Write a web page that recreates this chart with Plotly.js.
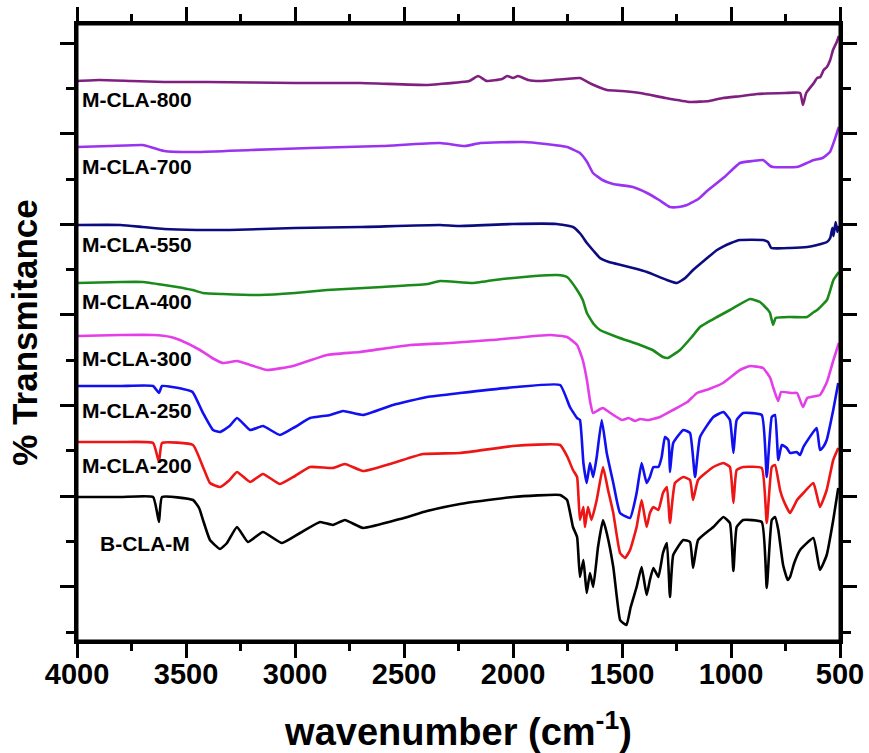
<!DOCTYPE html>
<html>
<head>
<meta charset="utf-8">
<script src="https://cdn.plot.ly/plotly-3.0.1.min.js"></script>
<style>html,body{margin:0;padding:0;background:#fff;}#chart{width:869px;height:753px;}</style>
</head>
<body>
<div id="chart"></div>
<script>
// Series labels
const labels = ["M-CLA-800","M-CLA-700","M-CLA-550","M-CLA-400","M-CLA-300","M-CLA-250","M-CLA-200","B-CLA-M"];

// M-CLA-800
const wn800 = [4000,3900,3750,3600,3400,3000,2700,2400,2335,2200,2160,2120,2050,2027,2000,1977,1930,1876,1760,1693,1640,1569,1500,1417,1300,1188,1100,1037,950,881,750,683,670,655,620,605,590,575,560,545,532,515,505];
const t800  = [560,561,560,559,559,558,558,556,557,560,565,560,562,565,563,565,561,560,562,563,557,551,550,548,543,539,540,543,545,547,548,548,536,548,558,563,564,571,574,581,591,599,605];

// M-CLA-700
const wn700 = [4000,3850,3700,3679,3600,3450,3200,2931,2600,2335,2220,2150,1954,1850,1752,1693,1660,1633,1590,1541,1450,1385,1330,1280,1240,1202,1150,1110,1030,959,900,853,820,807,700,683,620,580,546,525,510,505];
const t700  = [494,495,496,495,490,489,491,493,495,498,495,498,499,497,494,488,479,468,461,457,454,448,441,434,434,436,442,450,464,478,480,481,475,474,474,475,481,483,489,501,511,514];

// M-CLA-550
const wn550 = [4000,3800,3700,3600,3450,3300,3000,2700,2335,2250,2000,1800,1725,1690,1661,1630,1601,1560,1523,1450,1385,1294,1248,1210,1174,1120,1064,1000,959,853,830,815,729,650,605,560,545,535,530,520,512,505];
const t550  = [416,416,414,412,411,411,413,414,416,415,417,417,414,407,398,390,383,379,377,373,369,361,358,363,371,381,391,398,401,401,399,393,393,394,396,399,403,413,405,419,409,415];

// M-CLA-400
const wn400 = [4000,3800,3697,3600,3541,3470,3422,3330,3161,3000,2853,2600,2394,2335,2183,2050,1900,1798,1752,1706,1680,1661,1630,1601,1523,1417,1360,1312,1290,1234,1180,1142,1064,1005,913,867,830,821,807,795,729,651,620,605,560,530,505];
const t400  = [358,359,359,356,354,351,348,347,346,348,351,354,357,360,358,362,365,366,364,351,341,328,317,311,304,296,291,284,283,291,304,314,324,331,342,339,331,328,316,323,324,324,329,331,341,361,369];

// M-CLA-300
const wn300 = [4000,3800,3651,3570,3528,3436,3380,3330,3266,3206,3128,3009,2853,2702,2472,2289,2100,1830,1752,1706,1680,1661,1645,1633,1600,1587,1560,1500,1470,1440,1417,1380,1326,1266,1200,1156,1100,1037,959,913,853,820,807,784,770,720,697,670,650,592,560,530,505];
const t300  = [305,306,306,304,301,291,283,278,280,276,271,275,286,289,296,298,301,306,304,296,281,261,238,228,232,233,229,221,223,220,222,221,224,231,239,248,252,258,271,275,273,263,254,240,249,248,248,234,243,246,259,281,298];

// M-CLA-250
const wn250 = [4000,3800,3651,3624,3610,3514,3470,3422,3376,3344,3300,3266,3206,3147,3069,3000,2931,2839,2780,2688,2550,2394,2243,1982,1784,1739,1706,1693,1677,1662,1647,1632,1616,1593,1570,1540,1509,1463,1433,1410,1387,1372,1356,1333,1318,1303,1287,1280,1265,1219,1188,1165,1142,1081,1035,1005,989,974,944,859,836,813,798,783,767,744,729,699,683,668,607,592,577,561,531,508];
const t250  = [255,255,255,248,255,252,249,228,211,209,215,223,211,215,206,214,223,226,230,226,236,244,248,254,256,234,223,221,178,158,178,164,184,221,188,158,128,123,148,178,158,164,174,174,184,204,201,169,198,211,208,164,204,224,229,221,188,221,228,226,164,224,226,181,196,193,188,189,186,194,213,191,194,201,231,258];

// M-CLA-200
const wn200 = [4000,3800,3651,3624,3610,3468,3422,3390,3344,3300,3266,3206,3147,3069,3000,2931,2826,2771,2688,2550,2413,2243,2000,1784,1750,1725,1706,1693,1677,1670,1656,1640,1616,1587,1564,1540,1509,1486,1463,1433,1410,1387,1372,1356,1333,1312,1294,1280,1257,1219,1188,1174,1151,1081,1035,1005,989,974,944,859,836,813,798,775,760,729,697,668,622,592,561,531,508];
const t200  = [199,199,198,179,198,196,174,158,154,161,169,159,167,157,165,174,173,177,170,178,187,188,195,196,184,171,164,121,134,114,134,121,141,174,151,128,88,83,91,114,141,114,128,134,131,148,154,118,158,164,161,141,161,174,178,174,138,171,174,173,118,174,176,151,141,128,141,148,158,134,151,181,193];

// B-CLA-M
const wnB = [4000,3800,3651,3624,3610,3468,3440,3422,3390,3344,3312,3266,3216,3147,3060,2977,2885,2826,2771,2688,2518,2394,2243,2000,1784,1752,1725,1706,1693,1677,1662,1647,1632,1610,1587,1570,1540,1509,1495,1479,1460,1433,1410,1387,1372,1356,1333,1312,1294,1280,1265,1219,1188,1174,1151,1081,1035,1005,989,974,944,859,836,813,798,783,761,740,729,710,683,622,592,561,531,508];
const tB  = [144,144,144,119,144,141,133,121,101,92,98,114,99,109,98,108,119,116,121,113,122,130,137,144,146,141,114,104,64,81,48,68,54,94,121,108,74,21,18,16,34,54,74,46,61,73,64,88,98,44,86,101,99,73,101,114,124,118,70,114,121,119,53,121,124,111,76,61,64,78,91,103,71,86,121,153];

// Label anchor levels (same units as the series)
const labelLevels = [542,475,397,340,283,231,176,98];

// X axis ticks
const xTicks = [4000,3500,3000,2500,2000,1500,1000,500];

const series = [
  {x: wn800, y: t800, color: "#7f1f80"},
  {x: wn700, y: t700, color: "#9a32f2"},
  {x: wn550, y: t550, color: "#0c0c80"},
  {x: wn400, y: t400, color: "#1a8a1a"},
  {x: wn300, y: t300, color: "#e43ee8"},
  {x: wn250, y: t250, color: "#1010f0"},
  {x: wn200, y: t200, color: "#ee1515"},
  {x: wnB,   y: tB,   color: "#000000"}
];

const traces = series.map((s, i) => ({
  x: s.x, y: s.y, type: "scatter", mode: "lines", name: labels[i],
  line: {color: s.color, width: 2.6, shape: "spline", smoothing: 0.4},
  hoverinfo: "skip", showlegend: false
}));

const annotations = labels.map((lab, i) => ({
  x: 3985, y: labelLevels[i], xref: "x", yref: "y",
  text: lab, showarrow: false, xanchor: "left", yanchor: "middle",
  font: {family: "Liberation Sans, Arial, sans-serif", size: 21, color: "#000", weight: "bold"}
}));
annotations[7].x = 3905;

const layout = {
  width: 869, height: 753,
  margin: {l: 77, r: 29, t: 24, b: 112},
  paper_bgcolor: "#fff", plot_bgcolor: "#fff",
  showlegend: false,
  font: {family: "Liberation Sans, Arial, sans-serif", color: "#000"},
  xaxis: {
    range: [4000, 500], tickmode: "array", tickvals: xTicks, ticktext: xTicks.map(String),
    ticks: "outside", ticklen: 14, tickwidth: 3, tickcolor: "#000",
    minor: {dtick: 250, tick0: 0, ticks: "outside", ticklen: 7, tickwidth: 3, tickcolor: "#000"},
    showline: true, linewidth: 3, linecolor: "#000", mirror: "ticks",
    showgrid: false, zeroline: false,
    ticklabelstandoff: -9,
    tickfont: {size: 29, weight: "bold", color: "#000"},
    title: {text: "wavenumber (cm<sup>-1</sup>)", font: {size: 38, weight: "bold", color: "#000"}, standoff: 34}
  },
  yaxis: {
    range: [0, 617], tick0: 54.3, dtick: 90.6,
    ticks: "outside", ticklen: 14, tickwidth: 3, tickcolor: "#000",
    minor: {tick0: 9, dtick: 45.3, ticks: "outside", ticklen: 8, tickwidth: 3, tickcolor: "#000"},
    showticklabels: false,
    showline: true, linewidth: 3, linecolor: "#000", mirror: "ticks",
    showgrid: false, zeroline: false,
    title: {text: "% Transmitance", font: {size: 35, weight: "bold", color: "#000"}, standoff: 12}
  },
  shapes: [{
    type: "rect", xref: "paper", yref: "paper", x0: 0, x1: 1, y0: 0, y1: 1,
    line: {color: "#000", width: 3}, fillcolor: "rgba(0,0,0,0)", layer: "above"
  }],
  annotations: annotations
};

Plotly.newPlot("chart", traces, layout, {displayModeBar: false, staticPlot: true});
</script>
</body>
</html>
